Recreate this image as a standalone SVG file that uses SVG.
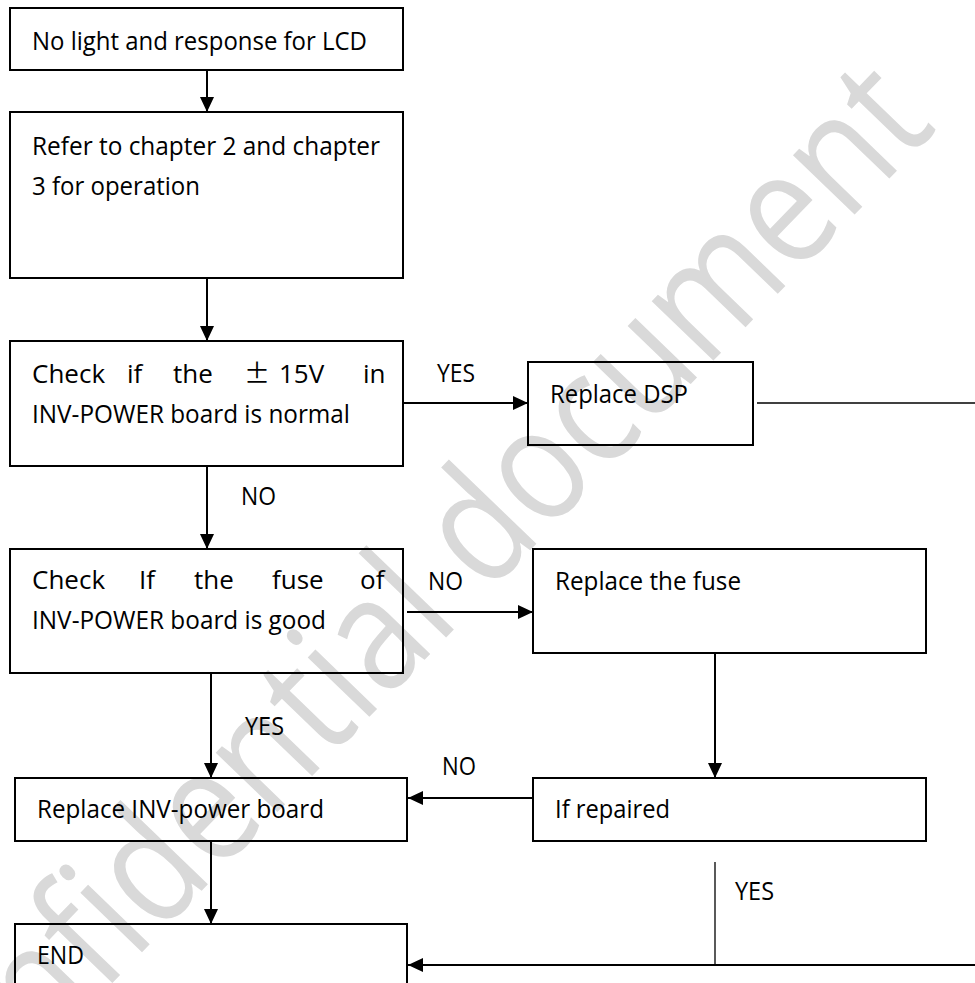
<svg xmlns="http://www.w3.org/2000/svg" width="975" height="983" viewBox="0 0 975 983">
<style>
.box{fill:none;stroke:#000;stroke-width:2}
.t{font-family:"Open Sans","Liberation Sans",sans-serif;font-size:26px;fill:#000}
.c{fill:none;stroke:#000;stroke-width:2}
.thin{fill:none;stroke:#000;stroke-width:1.3}
.wm{font-family:"Open Sans","Liberation Sans",sans-serif;font-size:160px;fill:#d9d9d9}
</style>
<defs>
<marker id="ah" viewBox="0 0 15 14" refX="15" refY="7" markerWidth="15" markerHeight="14" markerUnits="userSpaceOnUse" orient="auto">
<path d="M0,0 L15,7 L0,14 Z" fill="#000"/>
</marker>
</defs>
<rect width="975" height="983" fill="#fff"/>
<text class="wm" transform="translate(-73,1175) rotate(-46)" x="0" y="0" textLength="1456" lengthAdjust="spacingAndGlyphs">Confidential document</text>

<g id="connectors">
<path class="c" d="M207,70 V112" marker-end="url(#ah)"/>
<path class="c" d="M207,278 V341" marker-end="url(#ah)"/>
<path class="c" d="M403,403 H528" marker-end="url(#ah)"/>
<path class="thin" d="M757,403 H975"/>
<path class="c" d="M207,466 V549" marker-end="url(#ah)"/>
<path class="c" d="M407,612 H533" marker-end="url(#ah)"/>
<path class="c" d="M715,653 V778" marker-end="url(#ah)"/>
<path class="c" d="M533,798 H408" marker-end="url(#ah)"/>
<path class="c" d="M211,674 V778" marker-end="url(#ah)"/>
<path class="c" d="M211,841 V924" marker-end="url(#ah)"/>
<path class="thin" d="M715,862 V965"/>
<path class="c" d="M975,965 H408" marker-end="url(#ah)"/>
<text class="t" x="437" y="382" textLength="38" lengthAdjust="spacingAndGlyphs">YES</text>
<text class="t" x="241" y="505" textLength="35" lengthAdjust="spacingAndGlyphs">NO</text>
<text class="t" x="428" y="590" textLength="35" lengthAdjust="spacingAndGlyphs">NO</text>
<text class="t" x="245" y="735" textLength="39" lengthAdjust="spacingAndGlyphs">YES</text>
<text class="t" x="442" y="775" textLength="34" lengthAdjust="spacingAndGlyphs">NO</text>
<text class="t" x="735" y="900" textLength="39" lengthAdjust="spacingAndGlyphs">YES</text>
</g>

<g id="n1">
<rect class="box" x="10" y="8" width="393" height="62"/>
<text class="t" x="32" y="50" textLength="335" lengthAdjust="spacingAndGlyphs">No light and response for LCD</text>
</g>
<g id="n2">
<rect class="box" x="10" y="112" width="393" height="166"/>
<text class="t" x="32" y="155" textLength="348" lengthAdjust="spacingAndGlyphs">Refer to chapter 2 and chapter</text>
<text class="t" x="32" y="195" textLength="168" lengthAdjust="spacingAndGlyphs">3 for operation</text>
</g>
<g id="n3">
<rect class="box" x="10" y="341" width="393" height="125"/>
<text class="t" y="383"><tspan x="32">Check</tspan><tspan x="127">if</tspan><tspan x="173">the</tspan><tspan x="244" font-family="'Noto Sans CJK SC',sans-serif">±</tspan><tspan x="279">15V</tspan><tspan x="363">in</tspan></text>
<text class="t" x="32" y="423" textLength="318" lengthAdjust="spacingAndGlyphs">INV-POWER board is normal</text>
</g>
<g id="n_dsp">
<rect class="box" x="528" y="362" width="225" height="83"/>
<text class="t" x="550" y="403" textLength="138" lengthAdjust="spacingAndGlyphs">Replace DSP</text>
</g>
<g id="n4">
<rect class="box" x="10" y="549" width="393" height="124"/>
<text class="t" y="589"><tspan x="32">Check</tspan><tspan x="139">If</tspan><tspan x="194">the</tspan><tspan x="272">fuse</tspan><tspan x="360">of</tspan></text>
<text class="t" x="32" y="629" textLength="294" lengthAdjust="spacingAndGlyphs">INV-POWER board is good</text>
</g>
<g id="n_fuse">
<rect class="box" x="533" y="549" width="393" height="104"/>
<text class="t" x="555" y="590" textLength="186" lengthAdjust="spacingAndGlyphs">Replace the fuse</text>
</g>
<g id="n_inv">
<rect class="box" x="15" y="778" width="392" height="63"/>
<text class="t" x="37" y="818" textLength="287" lengthAdjust="spacingAndGlyphs">Replace INV-power board</text>
</g>
<g id="n_rep">
<rect class="box" x="533" y="778" width="393" height="63"/>
<text class="t" x="555" y="818" textLength="115" lengthAdjust="spacingAndGlyphs">If repaired</text>
</g>
<g id="n_end">
<rect class="box" x="15" y="924" width="392" height="80"/>
<text class="t" x="37" y="964" textLength="47" lengthAdjust="spacingAndGlyphs">END</text>
</g>
</svg>
